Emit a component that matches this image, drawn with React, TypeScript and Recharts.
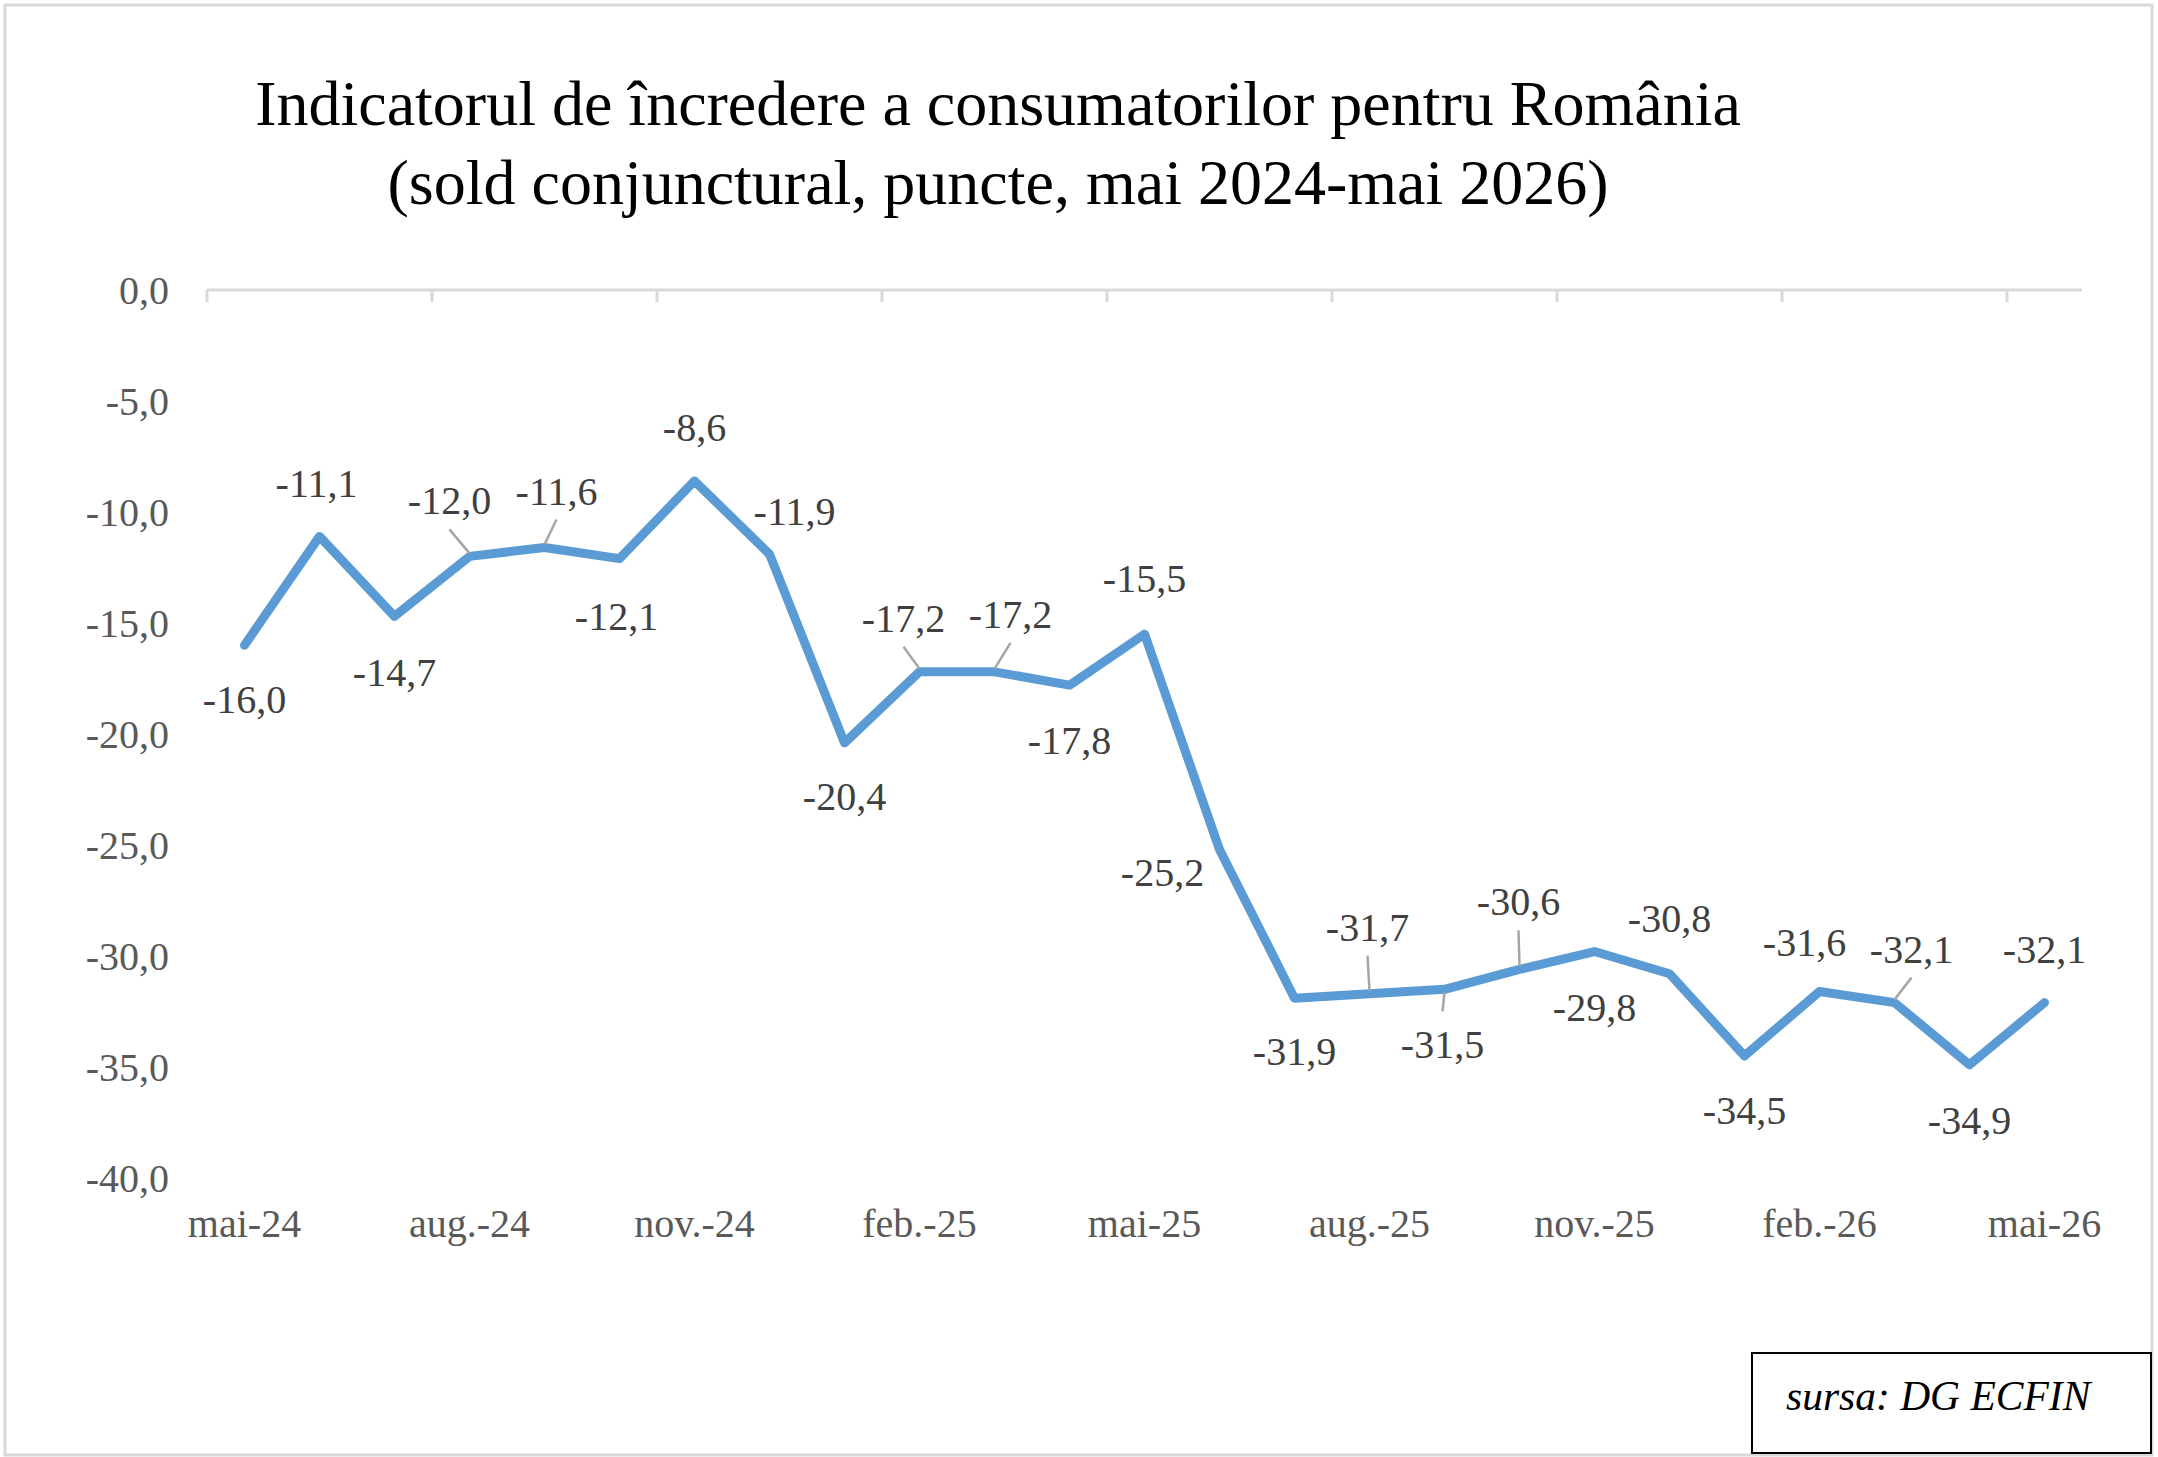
import React from 'react';
import { LineChart, Line, XAxis, YAxis, LabelList } from 'recharts';

// ---- data ----
const MONTHS = [
  'mai-24', 'iun.-24', 'iul.-24', 'aug.-24', 'sept.-24', 'oct.-24', 'nov.-24', 'dec.-24',
  'ian.-25', 'feb.-25', 'mar.-25', 'apr.-25', 'mai-25', 'iun.-25', 'iul.-25', 'aug.-25',
  'sept.-25', 'oct.-25', 'nov.-25', 'dec.-25', 'ian.-26', 'feb.-26', 'mar.-26', 'apr.-26', 'mai-26',
];
const VALUES = [
  -16.0, -11.1, -14.7, -12.0, -11.6, -12.1, -8.6, -11.9,
  -20.4, -17.2, -17.2, -17.8, -15.5, -25.2, -31.9, -31.7,
  -31.5, -30.6, -29.8, -30.8, -34.5, -31.6, -32.1, -34.9, -32.1,
];
const X_LABEL_TICKS = [0, 3, 6, 9, 12, 15, 18, 21, 24];
const X_MARK_TICKS = [-0.5, 2.5, 5.5, 8.5, 11.5, 14.5, 17.5, 20.5, 23.5];
const Y_TICKS = [-40, -35, -30, -25, -20, -15, -10, -5, 0];

const TITLE_LINE_1 = 'Indicatorul de încredere a consumatorilor pentru România';
const TITLE_LINE_2 = '(sold conjunctural, puncte, mai 2024-mai 2026)';
const SOURCE = 'sursa: DG ECFIN';

// label placement (pixel offsets of label centre from its point, leader line flag)
const LABEL_PLACEMENT: [number, number, boolean][] = [
  [0, 55, false], [-3, -52, false], [0, 57, false], [-20, -55, true], [12, -56, true],
  [-3, 58, false], [0, -53, false], [25, -42, false], [0, 54, false], [-16, -53, true],
  [16, -57, true], [0, 56, false], [0, -55, false], [-57, 24, false], [0, 54, false],
  [-2, -66, true], [-2, 56, true], [-1, -67, true], [0, 56, false], [0, -55, false],
  [0, 55, false], [-15, -49, false], [17, -53, true], [0, 56, false], [0, -53, false],
];

const data = VALUES.map((v, i) => ({ idx: i, month: MONTHS[i], value: v }));

const FONT = "'Liberation Serif', 'Times New Roman', serif";
const fmt = (v: number) => v.toFixed(1).replace('.', ',');

const TopTick = (props: any) => {
  const { x, y } = props;
  return <line x1={x} x2={x} y1={y} y2={y + 12} stroke="#D9D9D9" strokeWidth={3} />;
};

const renderLabel = (props: any) => {
  const { x, y, value, index } = props;
  const [dx, dy, leader] = LABEL_PLACEMENT[index] || [0, -55, false];
  const lx = x + dx;
  const ly = y + dy;
  let leaderEl = null;
  if (leader) {
    if (dy < 0) {
      leaderEl = <line x1={lx} y1={ly + 28} x2={x} y2={y - 3} stroke="#A6A6A6" strokeWidth={2.5} />;
    } else {
      leaderEl = <line x1={x} y1={y + 3} x2={lx} y2={ly - 34} stroke="#A6A6A6" strokeWidth={2.5} />;
    }
  }
  return (
    <g key={`lbl-${index}`}>
      {leaderEl}
      <text x={lx} y={ly + 13} textAnchor="middle" fontSize={40} fontFamily={FONT} fill="#404040">
        {fmt(Number(value))}
      </text>
    </g>
  );
};

export default function App() {
  return (
    <div style={{ position: 'absolute', left: 0, top: 0, width: 2158, height: 1457, background: '#fff' }}>
      <LineChart
        width={2158}
        height={1457}
        data={data}
        margin={{ top: 280, right: 76, bottom: 219, left: 0 }}
      >
        <XAxis
          xAxisId="top"
          orientation="top"
          dataKey="idx"
          type="number"
          domain={[-0.5, 24.5]}
          allowDataOverflow
          ticks={X_MARK_TICKS}
          interval={0}
          height={10}
          tickSize={0}
          tickMargin={0}
          tickLine={false}
          axisLine={{ stroke: '#D9D9D9', strokeWidth: 3 }}
          tick={<TopTick />}
        />
        <XAxis
          xAxisId="bottom"
          orientation="bottom"
          dataKey="idx"
          type="number"
          domain={[-0.5, 24.5]}
          allowDataOverflow
          ticks={X_LABEL_TICKS}
          interval={0}
          height={60}
          tickSize={0}
          tickMargin={31}
          tickLine={false}
          axisLine={false}
          tickFormatter={(v: number) => MONTHS[v]}
          tick={{ fontSize: 40, fontFamily: FONT, fill: '#595959' }}
        />
        <YAxis
          type="number"
          domain={[-40, 0]}
          ticks={Y_TICKS}
          interval={0}
          width={207}
          tickSize={0}
          tickMargin={38}
          tickLine={false}
          axisLine={false}
          tickFormatter={fmt}
          tick={{ fontSize: 40, fontFamily: FONT, fill: '#595959' }}
        />
        <Line
          xAxisId="bottom"
          type="linear"
          dataKey="value"
          stroke="#5B9BD5"
          strokeWidth={9}
          strokeLinecap="round"
          strokeLinejoin="round"
          dot={false}
          activeDot={false}
          isAnimationActive={false}
        >
          <LabelList dataKey="value" content={renderLabel} />
        </Line>
      </LineChart>
      <svg
        width={2158}
        height={1457}
        style={{ position: 'absolute', left: 0, top: 0, pointerEvents: 'none' }}
      >
        <rect x={5} y={5} width={2147} height={1450} fill="none" stroke="#D9D9D9" strokeWidth={3} />
        <text x={998} y={125} textAnchor="middle" fontSize={64} fontFamily={FONT} fill="#000">
          {TITLE_LINE_1}
        </text>
        <text x={998} y={204} textAnchor="middle" fontSize={64} fontFamily={FONT} fill="#000">
          {TITLE_LINE_2}
        </text>
        <rect x={1752} y={1353} width={399} height={100} fill="#fff" stroke="#000" strokeWidth={2} />
        <text x={1786} y={1410} fontSize={41.5} fontStyle="italic" fontFamily={FONT} fill="#000">
          {SOURCE}
        </text>
      </svg>
    </div>
  );
}
